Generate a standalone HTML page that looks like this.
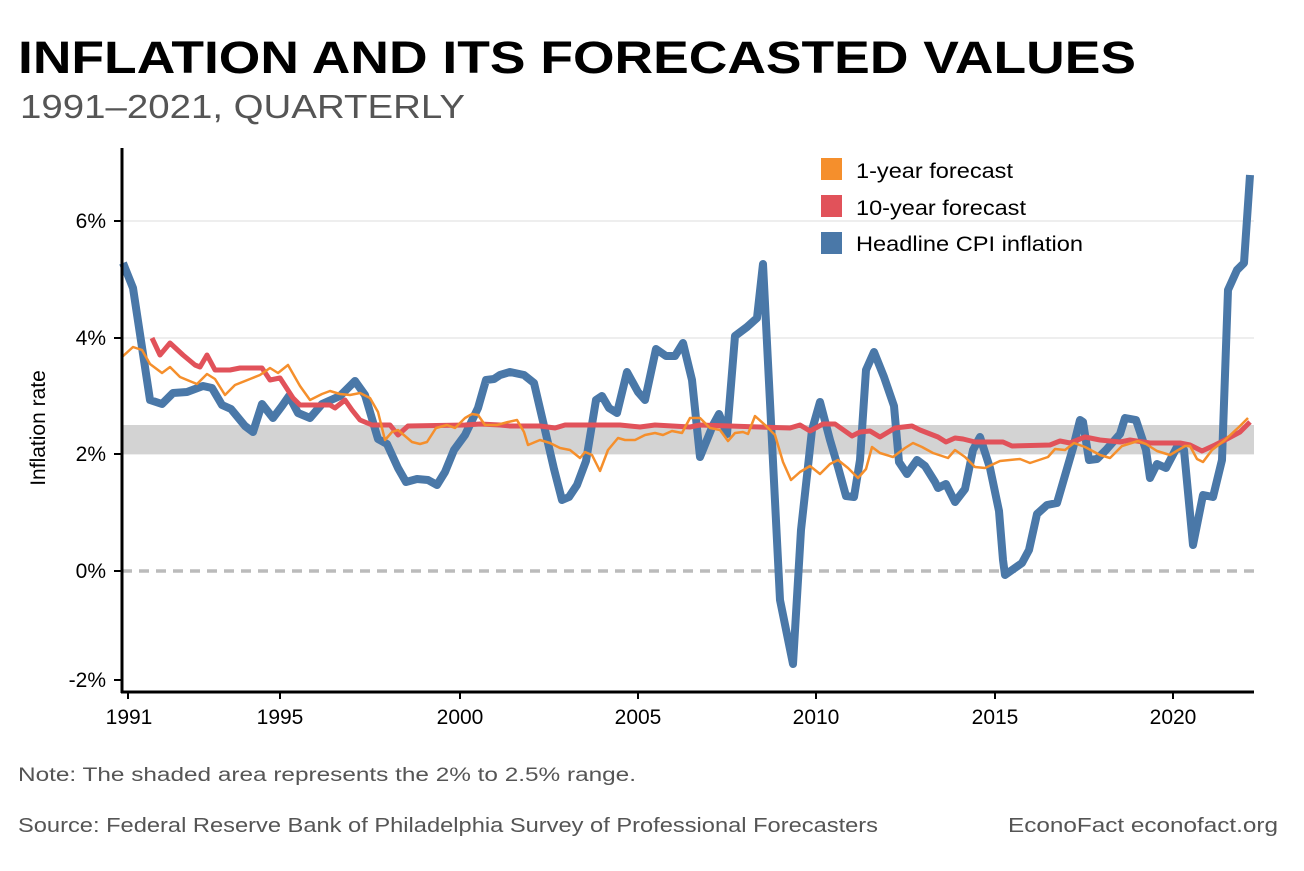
<!DOCTYPE html>
<html><head><meta charset="utf-8"><style>
body{margin:0;background:#fff;}
svg text{font-family:"Liberation Sans",Arial,sans-serif;}
</style></head><body>
<svg width="1304" height="866" viewBox="0 0 1304 866" xmlns="http://www.w3.org/2000/svg">
<text x="18" y="73" font-size="45" font-weight="bold" fill="#000" textLength="1118" lengthAdjust="spacingAndGlyphs">INFLATION AND ITS FORECASTED VALUES</text>
<text x="20" y="118" font-size="33" fill="#555" textLength="445" lengthAdjust="spacingAndGlyphs">1991–2021, QUARTERLY</text>
<g stroke="#e8e8e8" stroke-width="1.5">
<line x1="122" y1="221" x2="1254" y2="221"/><line x1="122" y1="338" x2="1254" y2="338"/><line x1="122" y1="454" x2="1254" y2="454"/>
</g>
<rect x="122" y="425" width="1132" height="29" fill="#d3d3d3"/>
<line x1="122" y1="571" x2="1254" y2="571" stroke="#bbb" stroke-width="3.5" stroke-dasharray="10,7"/>
<g font-size="21" fill="#000" text-anchor="end">
<text x="106" y="228">6%</text><text x="106" y="345">4%</text><text x="106" y="461">2%</text><text x="106" y="578">0%</text><text x="106" y="687">-2%</text>
</g>
<g stroke="#000" stroke-width="2">
<line x1="114" y1="221" x2="122" y2="221"/><line x1="114" y1="338" x2="122" y2="338"/><line x1="114" y1="454" x2="122" y2="454"/><line x1="114" y1="571" x2="122" y2="571"/><line x1="114" y1="680" x2="122" y2="680"/>
</g>
<text transform="translate(45,428) rotate(-90)" font-size="21" text-anchor="middle">Inflation rate</text>
<g font-size="21" text-anchor="middle">
<text x="129" y="724">1991</text><text x="280" y="724">1995</text><text x="460" y="724">2000</text><text x="638" y="724">2005</text><text x="816" y="724">2010</text><text x="995" y="724">2015</text><text x="1173" y="724">2020</text>
</g>
<polyline fill="none" stroke="#4a78a8" stroke-width="8" stroke-linejoin="round" points="123,263 133,288 150,400 162,404 173,393 187,392 203,386 212,388 222,405 231,409 245,426 253,432 262,404 273,418 282,406 289,396 298,413 310,418 322,404 340,396 355,381 365,395 378,439 387,444 398,468 406,482 417,479 428,480 437,485 445,472 454,450 465,435 478,408 486,380 494,379 500,375 510,372 524,375 534,383 545,430 554,469 562,500 569,497 577,485 586,461 596,400 602,396 609,408 617,413 627,372 638,392 645,400 656,349 666,356 675,356 683,343 692,380 700,457 713,425 719,414 727,434 735,336 747,327 757,318 763,264 780,600 793,664 801,530 812,430 820,402 830,440 838,467 846,496 854,497 860,460 866,370 874,352 884,377 894,406 899,462 907,474 917,460 925,466 935,482 938,488 946,484 955,502 965,489 973,450 980,437 990,468 999,511 1003,560 1005,575 1022,563 1029,550 1037,514 1047,505 1057,503 1073,448 1080,420 1083,422 1089,460 1097,459 1106,450 1120,434 1125,418 1136,420 1146,450 1150,478 1157,464 1166,468 1177,447 1184,450 1193,545 1203,495 1213,497 1222,460 1228,290 1237,270 1244,263 1250,175"/>
<polyline fill="none" stroke="#e1525a" stroke-width="5" stroke-linejoin="round" points="152,338 160,355 170,343 183,355 195,365 200,367 207,355 215,370 230,370 240,368 262,368 270,380 280,378 293,398 300,405 330,405 335,408 345,400 352,410 360,420 372,425 390,425 398,435 408,426 465,425 480,424 500,425 510,426 540,426 555,428 565,425 620,425 640,427 655,425 690,427 700,425 790,428 800,425 810,431 823,424 835,424 852,436 860,432 870,431 880,437 895,428 912,426 920,430 938,437 946,442 955,438 963,439 975,442 1003,442 1012,446 1050,445 1060,441 1070,443 1085,437 1100,440 1120,442 1130,440 1150,443 1180,443 1190,445 1202,451 1215,445 1225,440 1240,432 1250,422"/>
<polyline fill="none" stroke="#f58f2c" stroke-width="2.5" stroke-linejoin="round" points="122,357 133,347 142,350 150,364 162,373 170,367 180,377 192,382 197,384 207,374 215,379 225,395 235,385 250,379 260,375 270,368 278,373 288,365 300,386 310,400 322,394 330,391 340,394 350,395 360,393 370,398 378,412 385,440 392,432 398,430 412,442 420,444 427,442 436,428 447,425 455,428 465,418 472,414 478,415 485,425 497,425 508,422 517,420 524,432 528,445 540,440 550,443 560,448 570,450 580,458 585,452 592,455 600,471 608,450 618,438 625,440 635,440 645,435 655,433 663,435 672,431 682,433 690,418 700,418 710,428 720,430 728,441 735,433 743,432 748,434 755,416 765,425 775,435 783,462 791,480 800,472 810,466 820,474 830,464 838,460 848,468 858,478 866,469 872,447 880,453 893,457 905,448 913,443 922,447 933,453 948,458 955,450 965,457 975,467 985,468 1000,461 1020,459 1030,463 1048,457 1055,449 1065,450 1074,443 1085,447 1100,455 1110,458 1122,446 1138,441 1146,444 1157,451 1170,455 1185,446 1190,446 1197,459 1203,462 1212,450 1225,440 1240,426 1248,418"/>
<line x1="122" y1="148" x2="122" y2="693" stroke="#000" stroke-width="3"/>
<line x1="121" y1="692" x2="1254" y2="692" stroke="#000" stroke-width="3"/>
<g stroke="#000" stroke-width="2">
<line x1="128" y1="692" x2="128" y2="699"/><line x1="280" y1="692" x2="280" y2="699"/><line x1="460" y1="692" x2="460" y2="699"/><line x1="638" y1="692" x2="638" y2="699"/><line x1="816" y1="692" x2="816" y2="699"/><line x1="995" y1="692" x2="995" y2="699"/><line x1="1173" y1="692" x2="1173" y2="699"/>
</g>
<rect x="821" y="158" width="21" height="22" fill="#f58f2c"/>
<rect x="821" y="195" width="21" height="22" fill="#e1525a"/>
<rect x="821" y="232" width="21" height="22" fill="#4a78a8"/>
<g font-size="21" fill="#000">
<text x="856" y="178" textLength="157" lengthAdjust="spacingAndGlyphs">1-year forecast</text>
<text x="856" y="215" textLength="170" lengthAdjust="spacingAndGlyphs">10-year forecast</text>
<text x="856" y="251" textLength="227" lengthAdjust="spacingAndGlyphs">Headline CPI inflation</text>
</g>
<text x="18" y="781" font-size="19" fill="#555" textLength="618" lengthAdjust="spacingAndGlyphs">Note: The shaded area represents the 2% to 2.5% range.</text>
<text x="18" y="832" font-size="20" fill="#555" textLength="860" lengthAdjust="spacingAndGlyphs">Source: Federal Reserve Bank of Philadelphia Survey of Professional Forecasters</text>
<text x="1008" y="832" font-size="20" fill="#555" textLength="270" lengthAdjust="spacingAndGlyphs">EconoFact  econofact.org</text>
</svg>
</body></html>
